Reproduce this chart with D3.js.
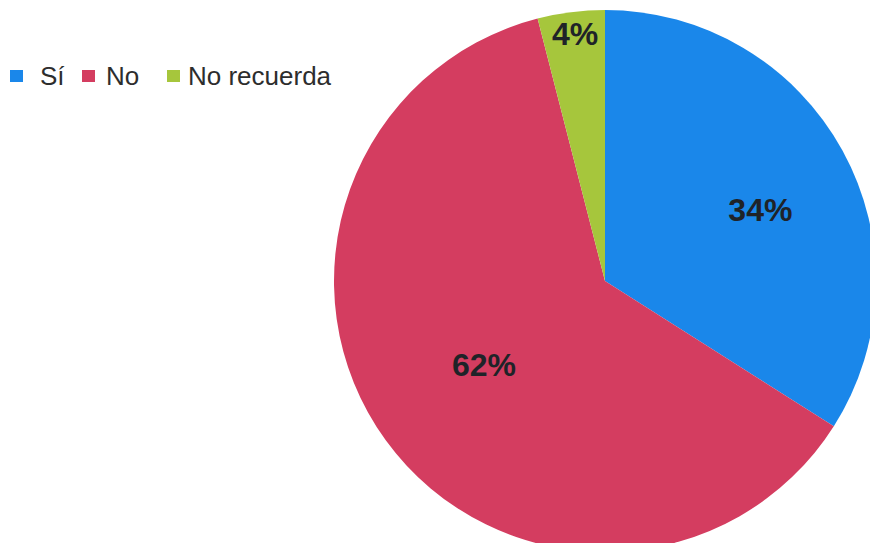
<!DOCTYPE html>
<html><head><meta charset="utf-8">
<script src="https://cdn.jsdelivr.net/npm/d3@7"></script>
<style>html,body{margin:0;padding:0;background:#fff;}</style>
</head><body>
<svg id="chart" width="870" height="543"></svg>
<script>
const categories = ["Sí", "No", "No recuerda"];
const values = [34, 62, 4];
const labels = ["34%", "62%", "4%"];

const colors = ["#1a87ea", "#d43d60", "#a6c63c"];
const labelRadiusFactor = [0.63, 0.544, 0.918];
const labelAngleOffsetDeg = [4.3, 1.2, 0.3];
const legendSwatchX = [10, 82, 167];
const legendTextX = [40, 106, 188];

const W = 870, H = 543;
const cx = 605, cy = 281, r = 271;
const svg = d3.select("#chart");

const pie = d3.pie().sort(null).value(d => d)(values);
const arc = d3.arc().innerRadius(0).outerRadius(r);
const g = svg.append("g").attr("transform", `translate(${cx},${cy})`);
g.selectAll("path.slice").data(pie).join("path")
  .attr("class", "slice")
  .attr("d", arc)
  .attr("fill", (d, i) => colors[i]);

g.selectAll("text.lbl").data(pie).join("text")
  .attr("class", "lbl")
  .attr("transform", (d, i) => {
    const rr = r * labelRadiusFactor[i];
    const a = (d.startAngle + d.endAngle) / 2 + labelAngleOffsetDeg[i] * Math.PI / 180;
    return `translate(${rr * Math.sin(a)},${-rr * Math.cos(a)})`;
  })
  .attr("text-anchor", "middle")
  .attr("dominant-baseline", "central")
  .attr("font-family", "Liberation Sans, Arial, sans-serif")
  .attr("font-weight", "bold")
  .attr("font-size", 32)
  .attr("fill", "#1f2328")
  .text((d, i) => labels[i]);

const leg = svg.append("g");
leg.selectAll("rect").data(categories).join("rect")
  .attr("x", (d, i) => legendSwatchX[i]).attr("y", 70)
  .attr("width", 13).attr("height", 12)
  .attr("fill", (d, i) => colors[i]);
leg.selectAll("text").data(categories).join("text")
  .attr("x", (d, i) => legendTextX[i]).attr("y", 85)
  .attr("font-family", "Liberation Sans, Arial, sans-serif")
  .attr("font-size", 26)
  .attr("fill", "#2d2d2d")
  .text(d => d);
</script>
</body></html>
